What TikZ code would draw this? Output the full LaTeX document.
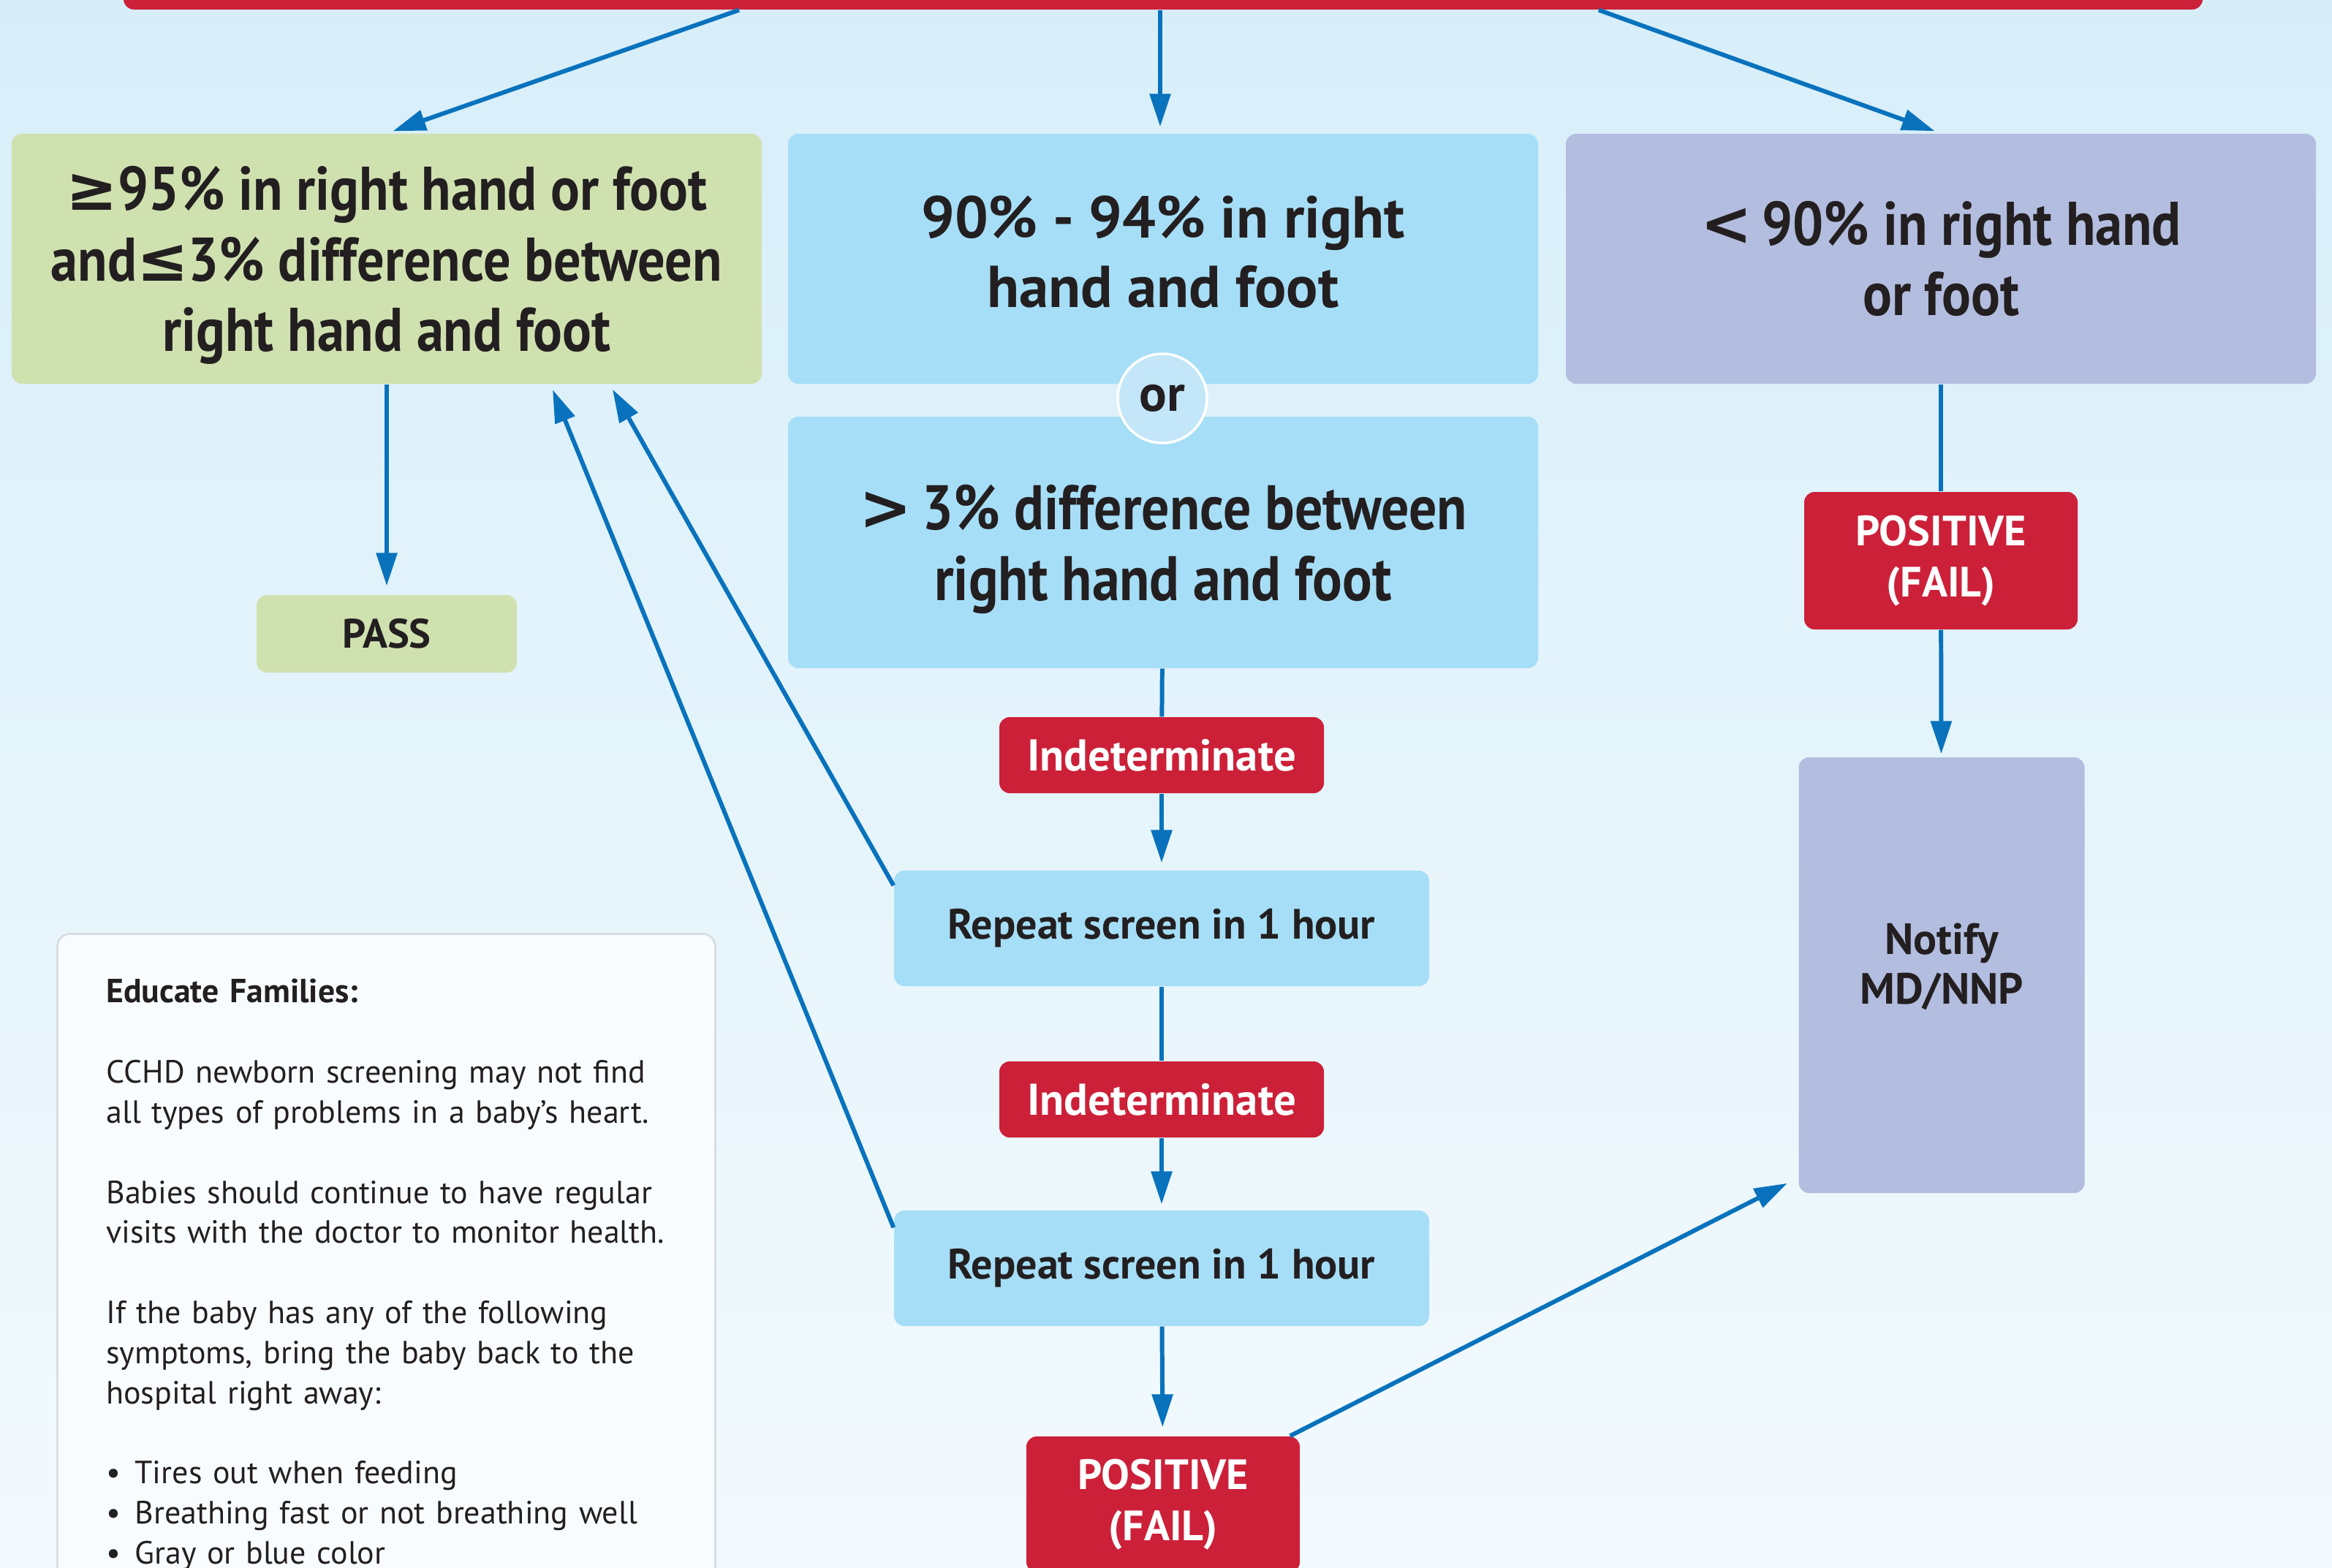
\documentclass[tikz,border=0pt]{standalone}
\usepackage{fontspec}
\setmainfont{PT Sans}
\newfontfamily\narrowsans[FakeStretch=0.88]{PT Sans}
\newfontfamily\symfont{DejaVu Sans}
\usetikzlibrary{arrows.meta}
\definecolor{alarmred}{RGB}{204,32,57}
\definecolor{passgreen}{RGB}{208,225,176}
\definecolor{skyblue}{RGB}{166,222,247}
\definecolor{lavender}{RGB}{179,189,223}
\definecolor{arrowblue}{RGB}{9,114,188}
\definecolor{orfill}{RGB}{195,230,248}
\definecolor{ink}{RGB}{35,31,32}
\definecolor{bgtop}{RGB}{215,238,249}
\definecolor{bgbottom}{RGB}{243,250,253}
\definecolor{notefill}{RGB}{248,252,254}
\definecolor{noteline}{RGB}{214,222,228}

\begin{document}
\begin{tikzpicture}[
    bigbox/.style={rounded corners=4pt, text=ink, align=center, minimum width=10.26cm, minimum height=3.42cm,
        font=\narrowsans\bfseries\fontsize{24}{27.5}\selectfont},
    step box/.style={fill=skyblue, rounded corners=4pt, text=ink, minimum width=7.32cm, minimum height=1.58cm,
        font=\bfseries\fontsize{16.5}{20}\selectfont},
    redbox/.style={fill=alarmred, rounded corners=4pt, text=white, align=center,
        font=\bfseries\fontsize{16.5}{20}\selectfont},
    flow/.style={line width=1.7pt, arrowblue, -{Triangle[length=0.45cm, width=0.28cm]}},
    link/.style={line width=1.7pt, arrowblue}
]
    \useasboundingbox (0,0) rectangle (31.90,-21.44);
    \fill[top color=bgtop, bottom color=bgbottom] (0,0) rectangle (31.90,-21.44);

    \node[fill=alarmred, rounded corners=4pt, minimum width=28.44cm, minimum height=0.66cm] (top) at (15.91,0.20) {};

    % three readings
    \node[bigbox, fill=passgreen, text depth=-3pt] (ok) at (5.29,-3.54)
        {{\symfont ≥}95\% in right hand or foot\\and{\symfont ≤}3\% difference between\\right hand and foot};
    \node[bigbox, fill=skyblue, text depth=5.6pt, font=\bfseries\fontsize{23}{27}\selectfont] (mid) at (15.91,-3.54)
        {90\% - 94\% in right\\hand and foot};
    \node[bigbox, fill=lavender] (low) at (26.55,-3.54) {{\symfont <}\,90\% in right hand\\or foot};
    \node[bigbox, fill=skyblue, minimum height=3.44cm, text depth=0pt,
        font=\narrowsans\bfseries\fontsize{24.5}{27.5}\selectfont] (diff) at (15.91,-7.42)
        {{\symfont >}\,3\% difference between\\right hand and foot};
    \node[circle, fill=orfill, draw=white, line width=1pt, minimum size=1.22cm, inner sep=0pt, text=ink,
        font=\bfseries\fontsize{20}{24}\selectfont] (orc) at (15.90,-5.45) {or};

    \node[fill=passgreen, rounded corners=4pt, text=ink, minimum width=3.56cm, minimum height=1.06cm,
        font=\bfseries\fontsize{16}{20}\selectfont] (pass) at (5.29,-8.67) {PASS};

    % middle column
    \node[redbox, minimum width=4.44cm, minimum height=1.04cm, font=\bfseries\fontsize{17.3}{20}\selectfont]
        (ind1) at (15.89,-10.33) {Indeterminate};
    \node[step box] (rep1) at (15.89,-12.70) {Repeat screen in 1 hour};
    \node[redbox, minimum width=4.44cm, minimum height=1.04cm, font=\bfseries\fontsize{17.3}{20}\selectfont]
        (ind2) at (15.89,-15.04) {Indeterminate};
    \node[step box] (rep2) at (15.89,-17.35) {Repeat screen in 1 hour};
    \node[redbox, minimum width=3.74cm, minimum height=1.86cm] (posm) at (15.91,-20.58) {POSITIVE\\(FAIL)};

    % right column
    \node[redbox, minimum width=3.74cm, minimum height=1.88cm] (posr) at (26.55,-7.67) {POSITIVE\\(FAIL)};
    \node[fill=lavender, rounded corners=4pt, text=ink, align=center, minimum width=3.91cm, minimum height=5.96cm,
        text depth=9pt, font=\bfseries\fontsize{17}{19.5}\selectfont] (md) at (26.56,-13.34) {Notify\\MD/NNP};

    % family note
    \node[anchor=north west, fill=notefill, draw=noteline, line width=0.8pt, rounded corners=5pt, text=ink,
        text width=7.66cm, inner xsep=0.67cm, inner ysep=0.62cm, align=left,
        font=\fontsize{12.5}{15.6}\selectfont] (edu) at (0.77,-12.76)
        {{\bfseries\fontsize{13}{15.6}\selectfont Educate Families:}\\[15.6pt]
         CCHD newborn screening may not find\\all types of problems in a baby’s heart.\\[15.6pt]
         Babies should continue to have regular\\visits with the doctor to monitor health.\\[15.6pt]
         If the baby has any of the following\\symptoms, bring the baby back to the\\hospital right away:\\[15.6pt]
         •\hspace{5.5pt}Tires out when feeding\\
         •\hspace{5.5pt}Breathing fast or not breathing well\\
         •\hspace{5.5pt}Gray or blue color};

    % connectors
    \draw[flow, shorten >=0.09cm] ([xshift=-5.80cm]top.south) -- (ok.north);
    \draw[flow, shorten >=0.09cm] ([xshift=-0.04cm]top.south) -- ([xshift=-0.04cm]mid.north);
    \draw[flow, shorten >=0.09cm] ([xshift=5.96cm]top.south) -- (low.north);
    \draw[flow, shorten >=0.12cm] (ok) -- (pass);
    \draw[link] (diff) -- (ind1);
    \draw[flow, shorten >=0.10cm] (ind1) -- (rep1);
    \draw[link] (rep1) -- (ind2);
    \draw[flow, shorten >=0.08cm] (ind2) -- (rep2);
    \draw[flow, shorten >=0.12cm] (rep2) -- (posm);
    \draw[flow, shorten >=0.08cm] ([yshift=-0.21cm]rep1.north west) -- ([xshift=3.05cm]ok.south);
    \draw[flow, shorten >=0.08cm] ([yshift=-0.24cm]rep2.north west) -- ([xshift=2.24cm]ok.south);
    \draw[link] (low) -- (posr);
    \draw[flow, shorten >=0.04cm] (posr) -- (md);
    \draw[flow] ([xshift=-0.14cm]posm.north east) -- ([xshift=-0.15cm, yshift=0.14cm]md.south west);
\end{tikzpicture}
\end{document}
